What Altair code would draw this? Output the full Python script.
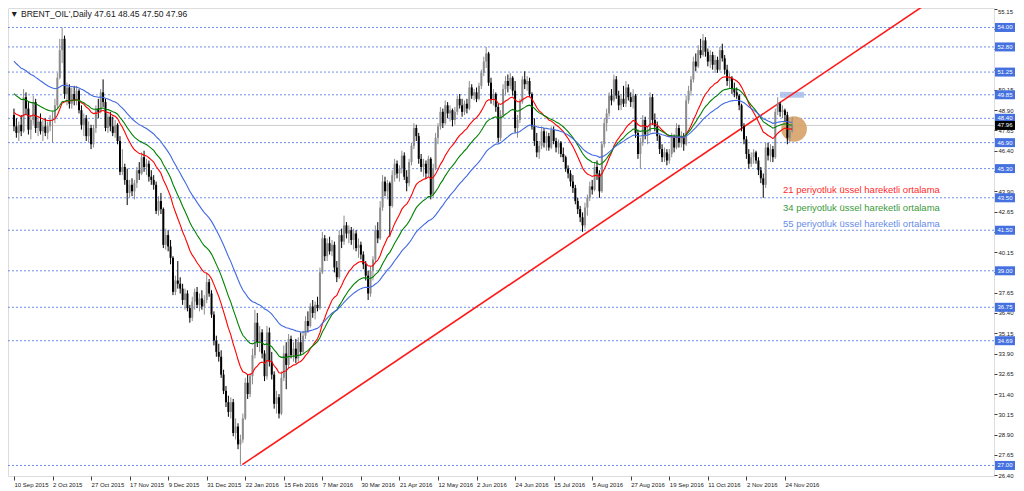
import altair as alt
import pandas as pd

# ---------------- data ----------------
opens = [48.6, 47.9, 47.5, 48.0, 47.6, 49.7, 49.0, 47.7, 48.3, 49.4,
         47.8, 48.2, 47.6, 47.9, 47.5, 47.9, 48.3, 48.4, 49.2, 50.9,
         52.6, 53.3, 49.9, 50.3, 49.3, 49.9, 49.5, 50.1, 48.9, 48.0,
         48.4, 47.3, 47.8, 46.8, 47.8, 49.0, 48.8, 50.0, 49.4, 47.8,
         48.5, 47.9, 47.5, 48.0, 47.0, 45.1, 45.4, 44.6, 43.8, 44.3,
         43.9, 44.4, 45.2, 45.0, 46.0, 45.4, 45.6, 44.8, 44.6, 44.3,
         42.7, 43.3, 42.8, 40.6, 41.2, 40.5, 39.8, 37.7, 38.4, 38.2,
         37.9, 37.2, 37.6, 36.7, 36.1, 37.1, 37.7, 36.9, 37.3, 36.8,
         37.2, 38.3, 37.6, 36.3, 34.7, 34.0, 33.7, 32.6, 31.6, 30.9,
         30.3, 30.9, 29.0, 29.4, 28.3, 28.6, 29.9, 32.1, 31.4, 32.5,
         33.8, 35.8, 34.6, 35.2, 33.9, 32.5, 35.2, 33.4, 32.6, 30.8,
         31.2, 30.2, 32.4, 33.9, 33.2, 34.8, 33.8, 34.2, 33.6, 34.6,
         34.0, 35.0, 35.9, 35.6, 36.8, 36.4, 36.9, 36.7, 38.9, 41.0,
         39.9, 40.7, 40.2, 40.6, 39.2, 38.6, 41.2, 40.8, 41.8, 41.3,
         41.5, 40.9, 41.3, 40.4, 40.6, 40.0, 39.4, 38.7, 37.6, 39.0,
         39.7, 41.5, 41.0, 42.9, 44.5, 43.9, 44.4, 43.0, 44.9, 45.6,
         45.0, 45.3, 46.1, 44.8, 44.4, 45.7, 46.7, 47.8, 47.3, 45.9,
         45.4, 45.6, 45.0, 45.9, 43.7, 45.3, 47.2, 47.9, 48.8, 48.1,
         49.2, 48.7, 48.9, 48.3, 48.8, 49.6, 49.2, 48.8, 49.3, 49.0,
         50.3, 49.8, 50.0, 49.6, 50.4, 51.2, 51.9, 52.4, 50.6, 49.6,
         49.9, 49.1, 47.2, 48.6, 50.2, 50.7, 50.4, 50.9, 50.1, 47.8,
         48.3, 49.4, 50.8, 50.5, 50.7, 49.9, 47.9, 47.0, 46.3, 46.7,
         47.6, 46.9, 47.3, 46.6, 47.7, 47.0, 46.6, 46.9, 46.2, 46.0,
         45.3, 45.0, 44.5, 44.1, 43.3, 42.8, 42.3, 41.8, 42.9, 43.5,
         44.2, 44.0, 45.4, 45.0, 43.9, 46.8, 48.1, 48.7, 49.8, 49.5,
         50.8, 49.8, 49.2, 49.6, 49.3, 50.3, 49.7, 49.4, 49.8, 47.5,
         46.2, 46.9, 48.3, 47.4, 47.6, 49.7, 48.3, 47.9, 47.3, 46.5,
         46.0, 46.3, 45.8, 46.2, 47.2, 46.6, 47.8, 46.9, 47.3, 46.8,
         49.5, 50.1, 50.8, 51.9, 51.6, 52.6, 52.3, 53.2, 52.5, 51.9,
         52.3, 51.7, 52.0, 51.4, 52.6, 52.1, 51.4, 50.7, 50.9, 50.2,
         50.0, 49.8, 49.2, 47.9, 47.1, 46.2, 45.6, 46.0, 46.3, 45.8,
         45.2, 44.7, 44.3, 46.6, 46.1, 46.5, 46.0, 48.8, 49.3, 48.8,
         48.9, 48.6, 47.2, 47.61]

highs = [49.0, 48.4, 48.2, 48.6, 50.2, 50.0, 49.4, 48.6, 49.8, 49.6,
         48.5, 48.7, 48.3, 48.4, 48.2, 48.6, 48.8, 49.6, 51.2, 53.3,
         54.0, 53.5, 50.6, 50.5, 50.3, 50.4, 50.4, 50.2, 49.2, 48.7,
         48.6, 48.2, 48.0, 48.0, 49.2, 49.6, 50.2, 50.8, 49.6, 48.7,
         48.8, 48.5, 48.3, 48.1, 47.3, 46.5, 45.6, 45.3, 44.6, 44.7,
         44.6, 45.4, 45.7, 46.3, 46.4, 45.9, 45.8, 45.2, 44.9, 44.5,
         43.6, 43.8, 42.9, 41.6, 41.5, 40.9, 39.9, 38.7, 39.6, 38.6,
         38.2, 37.9, 37.8, 36.9, 37.4, 37.9, 38.0, 37.6, 37.8, 37.5,
         38.9, 38.5, 37.8, 36.5, 35.0, 34.5, 34.1, 32.9, 31.9, 31.3,
         31.2, 31.1, 29.9, 29.6, 28.9, 30.2, 32.4, 32.6, 32.7, 34.2,
         36.6, 36.4, 35.6, 35.4, 34.1, 35.6, 35.5, 34.0, 32.8, 31.6,
         31.4, 32.8, 34.4, 34.6, 35.1, 35.0, 34.6, 34.8, 34.9, 35.2,
         35.3, 36.2, 36.5, 37.0, 37.2, 37.1, 37.4, 39.2, 41.4, 41.2,
         41.0, 41.1, 40.9, 40.8, 39.6, 41.5, 41.6, 42.4, 42.0, 41.8,
         41.7, 41.6, 41.5, 41.0, 40.8, 40.2, 39.6, 39.0, 39.3, 39.9,
         41.8, 42.0, 43.3, 44.9, 44.8, 44.6, 44.5, 45.2, 45.9, 45.8,
         45.5, 46.4, 46.3, 45.2, 45.9, 46.9, 48.1, 48.0, 47.5, 46.2,
         45.9, 45.8, 46.1, 46.0, 45.6, 47.5, 48.1, 49.1, 49.0, 49.5,
         49.4, 49.2, 49.0, 49.1, 49.8, 49.9, 49.6, 49.5, 49.6, 50.7,
         50.5, 50.2, 50.3, 50.6, 51.4, 52.2, 52.8, 52.5, 50.9, 50.2,
         50.0, 49.3, 48.9, 50.5, 51.0, 51.1, 51.2, 51.0, 50.7, 48.6,
         49.6, 51.0, 51.3, 51.0, 50.9, 50.0, 48.4, 47.5, 47.0, 47.9,
         47.8, 47.6, 47.5, 47.9, 47.9, 47.2, 47.1, 47.0, 46.6, 46.1,
         45.5, 45.2, 44.9, 44.3, 43.5, 43.0, 42.6, 43.2, 43.7, 44.5,
         44.6, 45.7, 45.8, 45.2, 47.0, 48.4, 49.0, 50.0, 50.2, 51.1,
         51.0, 50.1, 49.9, 50.4, 50.7, 50.5, 50.0, 50.2, 49.9, 47.7,
         47.2, 48.6, 48.5, 47.9, 50.0, 49.9, 48.7, 48.2, 47.4, 46.8,
         46.6, 46.5, 46.5, 47.5, 47.4, 48.1, 48.0, 47.6, 47.5, 49.8,
         50.4, 51.0, 52.2, 52.4, 52.9, 53.3, 53.6, 53.4, 52.7, 52.6,
         52.5, 52.3, 52.2, 52.8, 53.0, 52.3, 51.7, 51.2, 51.0, 50.6,
         50.3, 49.9, 49.3, 48.1, 47.3, 46.5, 46.3, 46.5, 46.4, 46.0,
         45.4, 45.0, 46.9, 46.9, 46.8, 46.7, 49.0, 49.7, 49.4, 49.2,
         49.0, 48.8, 48.0, 48.45]

lows = [47.6, 47.2, 47.0, 47.3, 47.5, 48.6, 47.4, 47.1, 48.0, 47.5,
        47.3, 47.4, 47.0, 47.3, 47.1, 47.6, 46.9, 48.1, 49.0, 50.8,
        51.8, 49.6, 49.2, 49.0, 49.0, 49.2, 49.2, 48.7, 47.7, 47.3,
        47.0, 46.9, 46.5, 46.6, 47.5, 48.4, 48.7, 49.1, 47.6, 47.5,
        47.6, 47.3, 47.2, 46.8, 44.9, 44.9, 44.3, 43.05, 43.5, 43.6,
        43.4, 44.1, 44.6, 44.9, 45.1, 44.9, 44.5, 44.3, 44.0, 42.5,
        42.4, 42.5, 40.4, 40.3, 40.2, 39.4, 37.5, 37.5, 37.9, 37.6,
        36.9, 36.6, 36.5, 35.8, 35.9, 36.6, 36.7, 36.5, 36.6, 36.3,
        37.0, 37.4, 36.1, 34.4, 33.7, 33.4, 32.4, 31.4, 30.6, 30.0,
        29.9, 28.8, 28.6, 28.0, 27.05, 28.4, 29.8, 31.1, 31.2, 32.0,
        33.6, 34.3, 34.0, 33.6, 32.2, 32.3, 33.1, 32.3, 30.5, 30.2,
        29.9, 30.1, 32.2, 31.7, 33.0, 33.6, 33.4, 33.3, 33.4, 33.8,
        33.9, 34.8, 35.2, 35.5, 36.1, 36.0, 36.5, 36.6, 38.8, 39.6,
        39.6, 40.0, 39.9, 38.9, 38.3, 38.5, 40.4, 40.6, 41.0, 40.7,
        40.6, 40.3, 40.2, 39.8, 39.7, 39.1, 38.4, 37.2, 37.4, 38.4,
        39.5, 40.7, 40.9, 42.7, 43.6, 43.4, 41.1, 42.9, 44.5, 44.7,
        44.5, 45.0, 44.6, 43.9, 44.2, 45.5, 46.5, 47.0, 45.6, 45.1,
        44.8, 44.7, 44.8, 43.4, 43.5, 45.2, 46.8, 47.7, 47.8, 48.0,
        48.4, 48.2, 47.9, 48.0, 48.6, 49.0, 48.5, 48.6, 48.7, 48.9,
        49.6, 49.5, 49.4, 49.5, 50.2, 51.0, 51.5, 50.4, 49.3, 49.2,
        48.8, 46.9, 47.0, 48.4, 49.8, 50.0, 50.2, 49.8, 47.5, 47.2,
        48.1, 49.3, 50.2, 50.1, 49.7, 47.7, 46.7, 46.0, 45.9, 46.5,
        46.6, 46.4, 46.4, 46.5, 46.8, 46.3, 46.2, 46.0, 45.7, 45.1,
        44.7, 44.2, 43.8, 43.1, 42.5, 42.0, 41.4, 41.6, 42.4, 43.3,
        43.7, 43.9, 44.6, 43.5, 43.8, 46.6, 47.6, 48.5, 49.2, 49.4,
        49.6, 48.9, 48.9, 49.1, 49.1, 49.5, 49.1, 49.0, 47.2, 45.9,
        45.3, 46.7, 47.1, 46.8, 47.5, 48.0, 47.6, 47.0, 46.2, 45.7,
        45.7, 45.5, 45.6, 46.0, 46.3, 46.5, 46.6, 46.6, 46.4, 46.7,
        49.3, 49.8, 50.6, 51.3, 51.5, 52.1, 52.2, 52.2, 51.6, 51.5,
        51.4, 51.2, 51.2, 51.3, 51.9, 51.1, 50.4, 50.2, 49.9, 49.7,
        49.6, 48.9, 47.6, 46.8, 45.9, 45.3, 45.4, 45.6, 45.6, 44.9,
        44.4, 43.5, 44.1, 45.8, 45.7, 45.7, 45.9, 48.6, 48.5, 48.4,
        48.2, 46.8, 46.9, 47.50]

closes = [47.9, 47.5, 48.0, 47.6, 49.7, 49.0, 47.7, 48.3, 49.4, 47.8,
          48.2, 47.6, 47.9, 47.5, 47.9, 48.3, 48.4, 49.2, 50.9, 52.6,
          53.3, 49.9, 50.3, 49.3, 49.9, 49.5, 50.1, 48.9, 48.0, 48.4,
          47.3, 47.8, 46.8, 47.8, 49.0, 48.8, 50.0, 49.4, 47.8, 48.5,
          47.9, 47.5, 48.0, 47.0, 45.1, 45.4, 44.6, 43.8, 44.3, 43.9,
          44.4, 45.2, 45.0, 46.0, 45.4, 45.6, 44.8, 44.6, 44.3, 42.7,
          43.3, 42.8, 40.6, 41.2, 40.5, 39.8, 37.7, 38.4, 38.2, 37.9,
          37.2, 37.6, 36.7, 36.1, 37.1, 37.7, 36.9, 37.3, 36.8, 37.2,
          38.3, 37.6, 36.3, 34.7, 34.0, 33.7, 32.6, 31.6, 30.9, 30.3,
          30.9, 29.0, 29.4, 28.3, 28.6, 29.9, 32.1, 31.4, 32.5, 33.8,
          35.8, 34.6, 35.2, 33.9, 32.5, 35.2, 33.4, 32.6, 30.8, 31.2,
          30.2, 32.4, 33.9, 33.2, 34.8, 33.8, 34.2, 33.6, 34.6, 34.0,
          35.0, 35.9, 35.6, 36.8, 36.4, 36.9, 36.7, 38.9, 41.0, 39.9,
          40.7, 40.2, 40.6, 39.2, 38.6, 41.2, 40.8, 41.8, 41.3, 41.5,
          40.9, 41.3, 40.4, 40.6, 40.0, 39.4, 38.7, 37.6, 39.0, 39.7,
          41.5, 41.0, 42.9, 44.5, 43.9, 44.4, 43.0, 44.9, 45.6, 45.0,
          45.3, 46.1, 44.8, 44.4, 45.7, 46.7, 47.8, 47.3, 45.9, 45.4,
          45.6, 45.0, 45.9, 43.7, 45.3, 47.2, 47.9, 48.8, 48.1, 49.2,
          48.7, 48.9, 48.3, 48.8, 49.6, 49.2, 48.8, 49.3, 49.0, 50.3,
          49.8, 50.0, 49.6, 50.4, 51.2, 51.9, 52.4, 50.6, 49.6, 49.9,
          49.1, 47.2, 48.6, 50.2, 50.7, 50.4, 50.9, 50.1, 47.8, 48.3,
          49.4, 50.8, 50.5, 50.7, 49.9, 47.9, 47.0, 46.3, 46.7, 47.6,
          46.9, 47.3, 46.6, 47.7, 47.0, 46.6, 46.9, 46.2, 46.0, 45.3,
          45.0, 44.5, 44.1, 43.3, 42.8, 42.3, 41.8, 42.9, 43.5, 44.2,
          44.0, 45.4, 45.0, 43.9, 46.8, 48.1, 48.7, 49.8, 49.5, 50.8,
          49.8, 49.2, 49.6, 49.3, 50.3, 49.7, 49.4, 49.8, 47.5, 46.2,
          46.9, 48.3, 47.4, 47.6, 49.7, 48.3, 47.9, 47.3, 46.5, 46.0,
          46.3, 45.8, 46.2, 47.2, 46.6, 47.8, 46.9, 47.3, 46.8, 49.5,
          50.1, 50.8, 51.9, 51.6, 52.6, 52.3, 53.2, 52.5, 51.9, 52.3,
          51.7, 52.0, 51.4, 52.6, 52.1, 51.4, 50.7, 50.9, 50.2, 50.0,
          49.8, 49.2, 47.9, 47.1, 46.2, 45.6, 46.0, 46.3, 45.8, 45.2,
          44.7, 44.3, 46.6, 46.1, 46.5, 46.0, 48.8, 49.3, 48.8, 48.9,
          48.6, 47.2, 47.6, 47.96]

date_labels = ["10 Sep 2015", "2 Oct 2015", "27 Oct 2015", "17 Nov 2015", "9 Dec 2015",
               "31 Dec 2015", "22 Jan 2016", "15 Feb 2016", "7 Mar 2016", "30 Mar 2016",
               "21 Apr 2016", "12 May 2016", "2 Jun 2016", "24 Jun 2016", "15 Jul 2016",
               "5 Aug 2016", "27 Aug 2016", "19 Sep 2016", "11 Oct 2016", "2 Nov 2016",
               "24 Nov 2016"]
label_step = 16

level_prices = [54.00, 52.80, 51.25, 49.85, 48.40, 46.90, 45.30, 43.50,
                41.50, 39.00, 36.75, 34.69, 27.00]
last_price = 47.96
axis_ticks = [26.40, 27.65, 28.90, 30.15, 31.40, 32.65, 33.90, 35.15, 36.40, 37.65,
              38.90, 40.15, 41.40, 42.65, 43.90, 45.15, 46.40, 47.65, 48.90, 50.15,
              51.40, 52.65, 53.90, 55.15]
hidden_tick_labels = ["53.90", "52.65", "51.40", "38.90", "45.15", "41.40", "55.15"]
top_tick_label = "55.15"

ema_periods = [21, 34, 55]
ema_first = [48.76, 49.92, 51.92]          # EMA values read at the first bar
ema_names = ["ema21", "ema34", "ema55"]
ema_colors = ["#ff0000", "#008000", "#4169e1"]

trend_bar = [94.75, 377.8]
trend_price = [27.05, 55.36]

legend_texts = ["21 periyotluk üssel hareketli ortalama",
                "34 periyotluk üssel hareketli ortalama",
                "55 periyotluk üssel hareketli ortalama"]
legend_colors = ["#ff2a2a", "#3a9a3a", "#6a8ce8"]
title_text = "\u25bc BRENT_OIL',Daily  47.61 48.45 47.50 47.96"

# ---------------- tables ----------------
n = len(closes)
candles = pd.DataFrame({"i": list(range(n)), "o": opens, "h": highs, "l": lows, "c": closes})
candles["col"] = ["#8c8c8c" if c >= o else "#000000" for o, c in zip(opens, closes)]

ema_rows = []
for per, first, name, colr in zip(ema_periods, ema_first, ema_names, ema_colors):
    a = 2.0 / (per + 1)
    v = first
    for i, c in enumerate(closes):
        if i > 0:
            v = v + a * (c - v)
        ema_rows.append({"i": i, "p": v, "s": name, "col": colr})
ema_df = pd.DataFrame(ema_rows)

levels_df = pd.DataFrame({"p": level_prices, "lab": [f"{v:.2f}" for v in level_prices]})
last_df = pd.DataFrame({"p": [last_price], "lab": [f"{last_price:.2f}"]})
trend_df = pd.DataFrame({"i": trend_bar, "p": trend_price})

# ---------------- scales / axes ----------------
W, H = 986, 468
FONT = "Liberation Sans"
xs = alt.Scale(domain=[-0.4, 404.7], nice=False, zero=False)
ys = alt.Scale(domain=[26.35, 55.20], nice=False, zero=False)
label_arr = "[" + ",".join(f"'{t}'" for t in date_labels) + "]"
hidden_arr = "[" + ",".join(f"'{t}'" for t in hidden_tick_labels) + "]"
xaxis = alt.Axis(values=[k * label_step for k in range(len(date_labels))],
                 labelExpr=f"{label_arr}[round(datum.value/{label_step})]",
                 orient="bottom", title=None, grid=False, domain=False,
                 tickSize=4, tickColor="#404040", labelAlign="left", labelPadding=1,
                 labelFontSize=6, labelFont=FONT, labelColor="#202020",
                 labelOverlap=False, labelFlush=False, labelBound=False)
yaxis = alt.Axis(values=axis_ticks, format=".2f", orient="right", title=None, grid=False,
                 labelExpr=f"indexof({hidden_arr}, datum.label) >= 0 ? '' : datum.label",
                 domain=False, tickSize=3, tickColor="#404040", labelPadding=1,
                 labelFontSize=6, labelFont=FONT, labelColor="#202020",
                 labelOverlap=False, labelFlush=False, labelBound=False)

def X(field="i"):
    return alt.X(f"{field}:Q", scale=xs, axis=xaxis)

def Y(field="p"):
    return alt.Y(f"{field}:Q", scale=ys, axis=yaxis)

# ---------------- layers ----------------
level_rules = alt.Chart(levels_df).mark_rule(
    color="#6f8fe8", strokeWidth=1, strokeDash=[2, 2]).encode(y=Y())

last_rule = alt.Chart(last_df).mark_rule(color="#cfcfcf", strokeWidth=1).encode(y=Y())

ellipse = alt.Chart(pd.DataFrame({"i": [323.8], "p": [47.74]})).mark_point(
    filled=True, shape="circle", size=660, color="#d6a268", opacity=0.9).encode(x=X(), y=Y())

hl_box = alt.Chart(pd.DataFrame({"i": [318.0], "i2": [327.9], "p": [50.03], "p2": [49.67]})).mark_rect(
    color="#a8bdea", opacity=0.85).encode(x=X(), x2="i2:Q", y=Y(), y2="p2:Q")

wicks = alt.Chart(candles).mark_rule(strokeWidth=1).encode(
    x=X(), y=Y("l"), y2="h:Q", color=alt.Color("col:N", scale=None))

bodies = alt.Chart(candles).mark_bar(size=2).encode(
    x=X(), y=Y("o"), y2="c:Q", color=alt.Color("col:N", scale=None))

ema_lines = alt.Chart(ema_df).mark_line(strokeWidth=1.1).encode(
    x=X(), y=Y(), color=alt.Color("col:N", scale=None), detail="s:N")

trend = alt.Chart(trend_df).mark_line(color="#ff1a1a", strokeWidth=1.6, clip=True).encode(x=X(), y=Y())

leg_df = pd.DataFrame({"t": legend_texts, "col": legend_colors, "i": [319.2] * 3,
                       "p": [43.98, 42.87, 41.88]})
legend_txt = alt.Chart(leg_df).mark_text(align="left", baseline="middle", fontSize=9.5, font=FONT).encode(
    x=X(), y=Y(), text="t:N", color=alt.Color("col:N", scale=None))

top_label = alt.Chart(pd.DataFrame({"t": [top_tick_label]})).mark_text(
    align="left", baseline="top", fontSize=6, font=FONT, color="#202020").encode(
    x=alt.value(W + 4), y=alt.value(1), text="t:N")

box_levels = alt.Chart(levels_df).mark_rect(color="#4470e0", yOffset=-4.5, y2Offset=4.5).encode(
    x=alt.value(W + 1), x2=alt.value(W + 21), y=Y(), y2="p:Q")
box_levels_txt = alt.Chart(levels_df).mark_text(color="white", fontSize=6, font=FONT,
                                                 baseline="middle", align="center").encode(
    x=alt.value(W + 11), y=Y(), text="lab:N")
box_last = alt.Chart(last_df).mark_rect(color="#000000", yOffset=-4.5, y2Offset=4.5).encode(
    x=alt.value(W + 1), x2=alt.value(W + 21), y=Y(), y2="p:Q")
box_last_txt = alt.Chart(last_df).mark_text(color="white", fontSize=6, font=FONT,
                                             baseline="middle", align="center").encode(
    x=alt.value(W + 11), y=Y(), text="lab:N")

title = alt.Chart(pd.DataFrame({"t": [title_text]})).mark_text(
    align="left", baseline="middle", fontSize=8.6, font=FONT, color="#202020").encode(
    x=alt.value(2), y=alt.value(6), text="t:N")

chart = alt.layer(
    level_rules, last_rule, ellipse, hl_box, trend, wicks, bodies, ema_lines,
    legend_txt, top_label, box_levels, box_levels_txt, box_last, box_last_txt, title
).properties(width=W, height=H,
             autosize=alt.AutoSizeParams(type="none"),
             padding={"left": 0, "top": 0, "right": 22, "bottom": 15}
).configure_view(stroke="#404040", strokeWidth=1
).configure(background="white")

chart.save("out.html", embed_options={"renderer": "svg", "actions": False})
